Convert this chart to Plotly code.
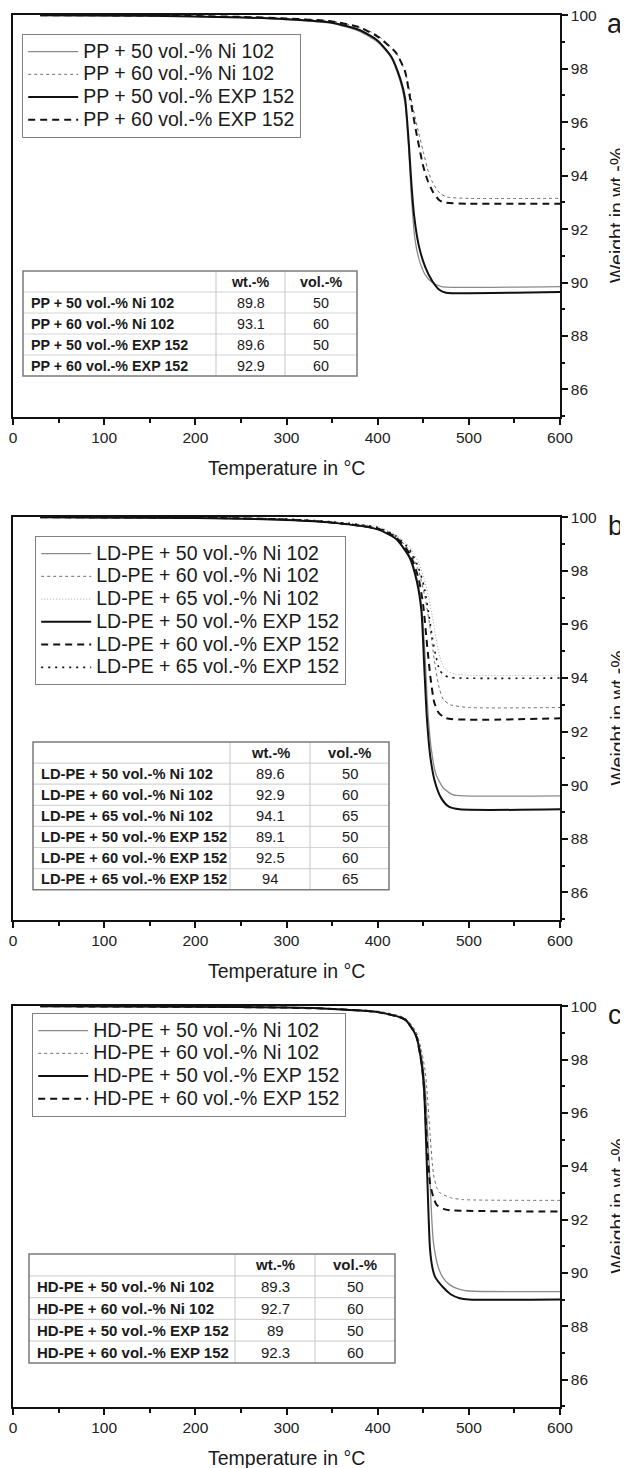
import plotly.graph_objects as go

FONT = "Liberation Sans, Arial, Helvetica, sans-serif"

# ---------------- DATA ----------------
# Panel a : PP
a_names = ["PP + 50 vol.-% Ni 102", "PP + 60 vol.-% Ni 102",
           "PP + 50 vol.-% EXP 152", "PP + 60 vol.-% EXP 152"]
a_ni50_T = [30, 150, 250, 300, 350, 380, 400, 415, 425, 430, 434, 437, 441, 446, 452, 460, 470, 500, 600]
a_ni50_W = [100, 99.98, 99.92, 99.84, 99.7, 99.4, 99.0, 98.4, 97.5, 96.7, 95.0, 93.2, 91.6, 90.8, 90.3, 90.0, 89.85, 89.82, 89.85]
a_ni60_T = [30, 150, 250, 300, 350, 380, 400, 420, 430, 439, 445, 450, 456, 461, 468, 476, 500, 600]
a_ni60_W = [100, 99.99, 99.94, 99.88, 99.78, 99.55, 99.25, 98.6, 97.9, 96.5, 95.6, 94.9, 94.1, 93.7, 93.35, 93.2, 93.15, 93.15]
a_exp50_T = [30, 150, 250, 300, 350, 380, 400, 415, 425, 430, 434, 437, 440, 445, 452, 460, 468, 475, 500, 550, 600]
a_exp50_W = [100, 99.98, 99.92, 99.85, 99.72, 99.45, 99.05, 98.45, 97.6, 96.9, 95.3, 93.7, 92.5, 91.4, 90.6, 90.05, 89.72, 89.62, 89.6, 89.62, 89.65]
a_exp60_T = [30, 150, 250, 300, 350, 380, 400, 420, 430, 435, 443, 450, 455, 461, 467, 472, 500, 600]
a_exp60_W = [100, 99.99, 99.94, 99.88, 99.77, 99.55, 99.2, 98.6, 97.9, 97.0, 95.5, 94.35, 93.8, 93.37, 93.1, 93.0, 92.95, 92.95]
a_tab_labels = a_names
a_tab_wt = ["89.8", "93.1", "89.6", "92.9"]
a_tab_vol = ["50", "60", "50", "60"]

# Panel b : LD-PE
b_names = ["LD-PE + 50 vol.-% Ni 102", "LD-PE + 60 vol.-% Ni 102", "LD-PE + 65 vol.-% Ni 102",
           "LD-PE + 50 vol.-% EXP 152", "LD-PE + 60 vol.-% EXP 152", "LD-PE + 65 vol.-% EXP 152"]
b_ni50_T = [30, 200, 300, 350, 400, 420, 435, 443, 448, 452, 455, 459, 464, 472, 482, 495, 600]
b_ni50_W = [100, 99.97, 99.9, 99.8, 99.55, 99.2, 98.55, 97.7, 96.7, 94.8, 92.8, 91.3, 90.4, 89.9, 89.65, 89.6, 89.6]
b_ni60_T = [30, 200, 300, 350, 400, 420, 435, 445, 452, 457, 462, 467, 472, 480, 500, 600]
b_ni60_W = [100, 99.98, 99.92, 99.82, 99.6, 99.3, 98.75, 98.0, 97.0, 96.0, 94.7, 93.7, 93.2, 93.0, 92.9, 92.9]
b_ni65_T = [30, 200, 300, 350, 400, 420, 435, 445, 451, 456, 460, 464, 468, 472, 477, 485, 500, 600]
b_ni65_W = [100, 99.98, 99.93, 99.84, 99.65, 99.35, 98.9, 98.3, 97.7, 97.0, 96.3, 95.5, 94.8, 94.45, 94.25, 94.15, 94.1, 94.1]
b_exp50_T = [30, 200, 300, 350, 400, 420, 435, 443, 448, 451, 454, 458, 463, 470, 478, 490, 600]
b_exp50_W = [100, 99.97, 99.9, 99.8, 99.55, 99.2, 98.5, 97.6, 96.5, 94.5, 92.5, 91.0, 90.1, 89.5, 89.2, 89.1, 89.1]
b_exp60_T = [30, 200, 300, 350, 400, 420, 435, 445, 450, 454, 458, 462, 467, 475, 600]
b_exp60_W = [100, 99.98, 99.92, 99.8, 99.58, 99.25, 98.65, 97.7, 96.7, 95.3, 94.0, 93.1, 92.7, 92.5, 92.5]
b_exp65_T = [30, 200, 300, 350, 400, 420, 435, 445, 451, 456, 460, 464, 468, 473, 480, 600]
b_exp65_W = [100, 99.98, 99.93, 99.83, 99.62, 99.3, 98.8, 98.1, 97.4, 96.4, 95.5, 94.8, 94.3, 94.1, 94.02, 94.0]
b_tab_labels = b_names
b_tab_wt = ["89.6", "92.9", "94.1", "89.1", "92.5", "94"]
b_tab_vol = ["50", "60", "65", "50", "60", "65"]

# Panel c : HD-PE
c_names = ["HD-PE + 50 vol.-% Ni 102", "HD-PE + 60 vol.-% Ni 102",
           "HD-PE + 50 vol.-% EXP 152", "HD-PE + 60 vol.-% EXP 152"]
c_ni50_T = [30, 200, 300, 350, 400, 430, 442, 448, 452, 454, 457.4, 461, 466.6, 472, 479, 490, 500, 600]
c_ni50_W = [100, 99.98, 99.95, 99.9, 99.8, 99.52, 98.95, 98.1, 97.0, 95.8, 93.4, 91.2, 90.2, 89.8, 89.55, 89.38, 89.32, 89.3]
c_ni60_T = [30, 200, 300, 350, 400, 430, 442, 448, 452, 454, 457.4, 461, 464.7, 468.4, 480, 493, 600]
c_ni60_W = [100, 99.98, 99.95, 99.9, 99.82, 99.56, 99.05, 98.35, 97.6, 96.9, 95.24, 93.75, 93.2, 93.0, 92.82, 92.75, 92.72]
c_exp50_T = [30, 200, 300, 350, 400, 430, 442, 448, 451, 454, 457.4, 460, 463, 472, 480, 490, 500, 600]
c_exp50_W = [100, 99.98, 99.95, 99.9, 99.78, 99.5, 98.9, 97.9, 96.8, 94.0, 90.9, 90.2, 89.85, 89.45, 89.2, 89.05, 89.0, 89.0]
c_exp60_T = [30, 200, 300, 350, 400, 430, 442, 448, 451, 454, 457.4, 461, 464.7, 472, 479, 600]
c_exp60_W = [100, 99.98, 99.95, 99.9, 99.78, 99.5, 98.9, 97.9, 96.9, 94.9, 93.37, 92.85, 92.55, 92.4, 92.35, 92.3]
c_tab_labels = c_names
c_tab_wt = ["89.3", "92.7", "89", "92.3"]
c_tab_vol = ["50", "60", "50", "60"]

x_ticks = [0, 100, 200, 300, 400, 500, 600]
y_ticks = [86, 88, 90, 92, 94, 96, 98, 100]
tab_header = ["wt.-%", "vol.-%"]
panel_letters = ["a", "b", "c"]
x_title = "Temperature in °C"
y_title = "Weight in wt.-%"

# ---------------- STYLE / LAYOUT ----------------
# the page body has an 8px margin: the figure is made 8px smaller and
# all layout positions below are given in screenshot pixels
OFF = 8
SW, SH = 628, 1468
W, H = SW - OFF, SH - OFF
PLOT_L, PLOT_R, PLOT_T, PLOT_B = 13, 560, 15, 1407
ML, MT = PLOT_L - OFF, PLOT_T - OFF
MR = SW - PLOT_R
MB = SH - PLOT_B
PW = PLOT_R - PLOT_L
PH = PLOT_B - PLOT_T


def fx(px):
    return (px - PLOT_L) / PW


def fy(py):
    return (PLOT_B - py) / PH


STY = {
    "ni50": dict(color="#8a8a8a", width=1.3, dash="solid"),
    "ni60": dict(color="#6e6e6e", width=1.0, dash="dot"),
    "ni65": dict(color="#a5a5a5", width=1.0, dash="1px,2px"),
    "exp50": dict(color="#111111", width=2.0, dash="solid"),
    "exp60": dict(color="#111111", width=2.0, dash="7px,5px"),
    "exp65": dict(color="#111111", width=1.6, dash="2px,5px"),
}

LEG_TEXT = 19.5

panels = [
    dict(top=15, bottom=417, legend="legend", leg_xy=(22, 34), font=14.3,
         tab=dict(left=23, c1=216, c2=285, right=357, top=271, rh=21.0),
         labels=a_tab_labels, wt=a_tab_wt, vol=a_tab_vol,
         series=[("ni50", a_names[0], a_ni50_T, a_ni50_W), ("ni60", a_names[1], a_ni60_T, a_ni60_W),
                 ("exp50", a_names[2], a_exp50_T, a_exp50_W), ("exp60", a_names[3], a_exp60_T, a_exp60_W)]),
    dict(top=517, bottom=920, legend="legend2", leg_xy=(35, 536), font=14.7,
         tab=dict(left=33, c1=230, c2=310, right=389, top=742, rh=21.1),
         labels=b_tab_labels, wt=b_tab_wt, vol=b_tab_vol,
         series=[("ni50", b_names[0], b_ni50_T, b_ni50_W), ("ni60", b_names[1], b_ni60_T, b_ni60_W),
                 ("ni65", b_names[2], b_ni65_T, b_ni65_W), ("exp50", b_names[3], b_exp50_T, b_exp50_W),
                 ("exp60", b_names[4], b_exp60_T, b_exp60_W), ("exp65", b_names[5], b_exp65_T, b_exp65_W)]),
    dict(top=1006, bottom=1407, legend="legend3", leg_xy=(32, 1013), font=15.0,
         tab=dict(left=29, c1=235, c2=315, right=395, top=1254, rh=21.8),
         labels=c_tab_labels, wt=c_tab_wt, vol=c_tab_vol,
         series=[("ni50", c_names[0], c_ni50_T, c_ni50_W), ("ni60", c_names[1], c_ni60_T, c_ni60_W),
                 ("exp50", c_names[2], c_exp50_T, c_exp50_W), ("exp60", c_names[3], c_exp60_T, c_exp60_W)]),
]

fig = go.Figure()
shapes, annos = [], []
layout = dict(
    width=W, height=H, autosize=False,
    margin=dict(l=ML, r=MR, t=MT, b=MB, pad=0),
    paper_bgcolor="white", plot_bgcolor="white",
    font=dict(family=FONT, color="#1a1a1a"),
    showlegend=True,
)

for i, p in enumerate(panels):
    n = "" if i == 0 else str(i + 1)
    xa, ya = "x" + n, "y" + n
    for key, name, T, Wt in p["series"]:
        s = STY[key]
        fig.add_trace(go.Scatter(
            x=T, y=Wt, mode="lines", xaxis=xa, yaxis=ya,
            name='<span style="font-size:%spx">%s</span>' % (LEG_TEXT, name),
            legend=p["legend"],
            line=dict(color=s["color"], width=s["width"], dash=s["dash"], shape="spline", smoothing=0.6),
        ))
    dom = [max(0.0, fy(p["bottom"])), min(1.0, fy(p["top"]))]
    layout["xaxis" + n] = dict(
        domain=[0, 1], anchor=ya, range=[0, 600], tickvals=x_ticks,
        ticks="outside", ticklen=6, tickwidth=1.5, tickcolor="#111",
        showline=True, linecolor="#111", linewidth=1.5, mirror=True,
        showgrid=False, zeroline=False, ticklabeloverflow="allow",
        tickfont=dict(size=15.5, family=FONT, color="#222"),
        minor=dict(dtick=50, tick0=0, ticks="outside", ticklen=4, tickwidth=1.5, tickcolor="#111", showgrid=False),
        automargin=False,
    )
    layout["yaxis" + n] = dict(
        domain=dom, anchor=xa, side="right", range=[84.97, 100.01], tickvals=y_ticks,
        ticks="outside", ticklen=6, tickwidth=1.5, tickcolor="#111",
        showline=True, linecolor="#111", linewidth=1.5, mirror=True,
        showgrid=False, zeroline=False, ticklabeloverflow="allow",
        tickfont=dict(size=15.5, family=FONT, color="#222"),
        minor=dict(dtick=1, tick0=0, ticks="outside", ticklen=3, tickwidth=1.5, tickcolor="#111", showgrid=False),
        automargin=False,
    )
    lx, ly = p["leg_xy"]
    layout[p["legend"]] = dict(
        x=fx(lx), y=fy(ly), xanchor="left", yanchor="top", xref="paper", yref="paper",
        bgcolor="white", bordercolor="#808080", borderwidth=1.2,
        font=dict(size=15.2, family=FONT, color="#1a1a1a"), tracegroupgap=0,
        itemwidth=50,
    )
    # axis titles and letters
    annos.append(dict(text=x_title, x=fx(286), y=fy(p["bottom"] + 51), xref="paper", yref="paper",
                      showarrow=False, xanchor="center", yanchor="middle",
                      font=dict(size=19.5, family=FONT, color="#1a1a1a")))
    annos.append(dict(text=y_title, x=fx(617), y=fy((p["top"] + p["bottom"]) / 2), xref="paper", yref="paper",
                      showarrow=False, xanchor="center", yanchor="middle", textangle=-90,
                      font=dict(size=19.5, family=FONT, color="#1a1a1a")))
    annos.append(dict(text=panel_letters[i], x=fx(615), y=fy(p["top"] + 9), xref="paper", yref="paper",
                      showarrow=False, xanchor="center", yanchor="middle",
                      font=dict(size=27, family=FONT, color="#1a1a1a")))
    # table
    t = p["tab"]
    nrows = len(p["labels"]) + 1
    bottom = t["top"] + nrows * t["rh"]
    for r in range(1, nrows):
        yy = fy(t["top"] + r * t["rh"])
        shapes.append(dict(type="line", xref="paper", yref="paper", x0=fx(t["left"]), x1=fx(t["right"]),
                           y0=yy, y1=yy, line=dict(color="#d4d4d4", width=1.2), layer="above"))
    for cx in (t["c1"], t["c2"]):
        shapes.append(dict(type="line", xref="paper", yref="paper", x0=fx(cx), x1=fx(cx),
                           y0=fy(t["top"]), y1=fy(bottom), line=dict(color="#cfcfcf", width=1.2), layer="above"))
    shapes.append(dict(type="rect", xref="paper", yref="paper", x0=fx(t["left"]), x1=fx(t["right"]),
                       y0=fy(bottom), y1=fy(t["top"]), line=dict(color="#7a7a7a", width=1.5),
                       fillcolor="rgba(0,0,0,0)", layer="above"))
    tf = dict(size=p["font"], family=FONT, color="#1a1a1a")
    hy = fy(t["top"] + t["rh"] / 2)
    annos.append(dict(text="<b>" + tab_header[0] + "</b>", x=fx((t["c1"] + t["c2"]) / 2), y=hy,
                      xref="paper", yref="paper", showarrow=False, xanchor="center", yanchor="middle", font=tf))
    annos.append(dict(text="<b>" + tab_header[1] + "</b>", x=fx((t["c2"] + t["right"]) / 2), y=hy,
                      xref="paper", yref="paper", showarrow=False, xanchor="center", yanchor="middle", font=tf))
    for r, (lab, wt, vol) in enumerate(zip(p["labels"], p["wt"], p["vol"])):
        ry = fy(t["top"] + (r + 1.5) * t["rh"])
        annos.append(dict(text="<b>" + lab + "</b>", x=fx(t["left"] + 6), y=ry, xref="paper", yref="paper",
                          showarrow=False, xanchor="left", yanchor="middle", font=tf))
        annos.append(dict(text=wt, x=fx((t["c1"] + t["c2"]) / 2), y=ry, xref="paper", yref="paper",
                          showarrow=False, xanchor="center", yanchor="middle", font=tf))
        annos.append(dict(text=vol, x=fx((t["c2"] + t["right"]) / 2), y=ry, xref="paper", yref="paper",
                          showarrow=False, xanchor="center", yanchor="middle", font=tf))

layout["shapes"] = shapes
layout["annotations"] = annos
fig.update_layout(**layout)
fig.write_html("out.html")
